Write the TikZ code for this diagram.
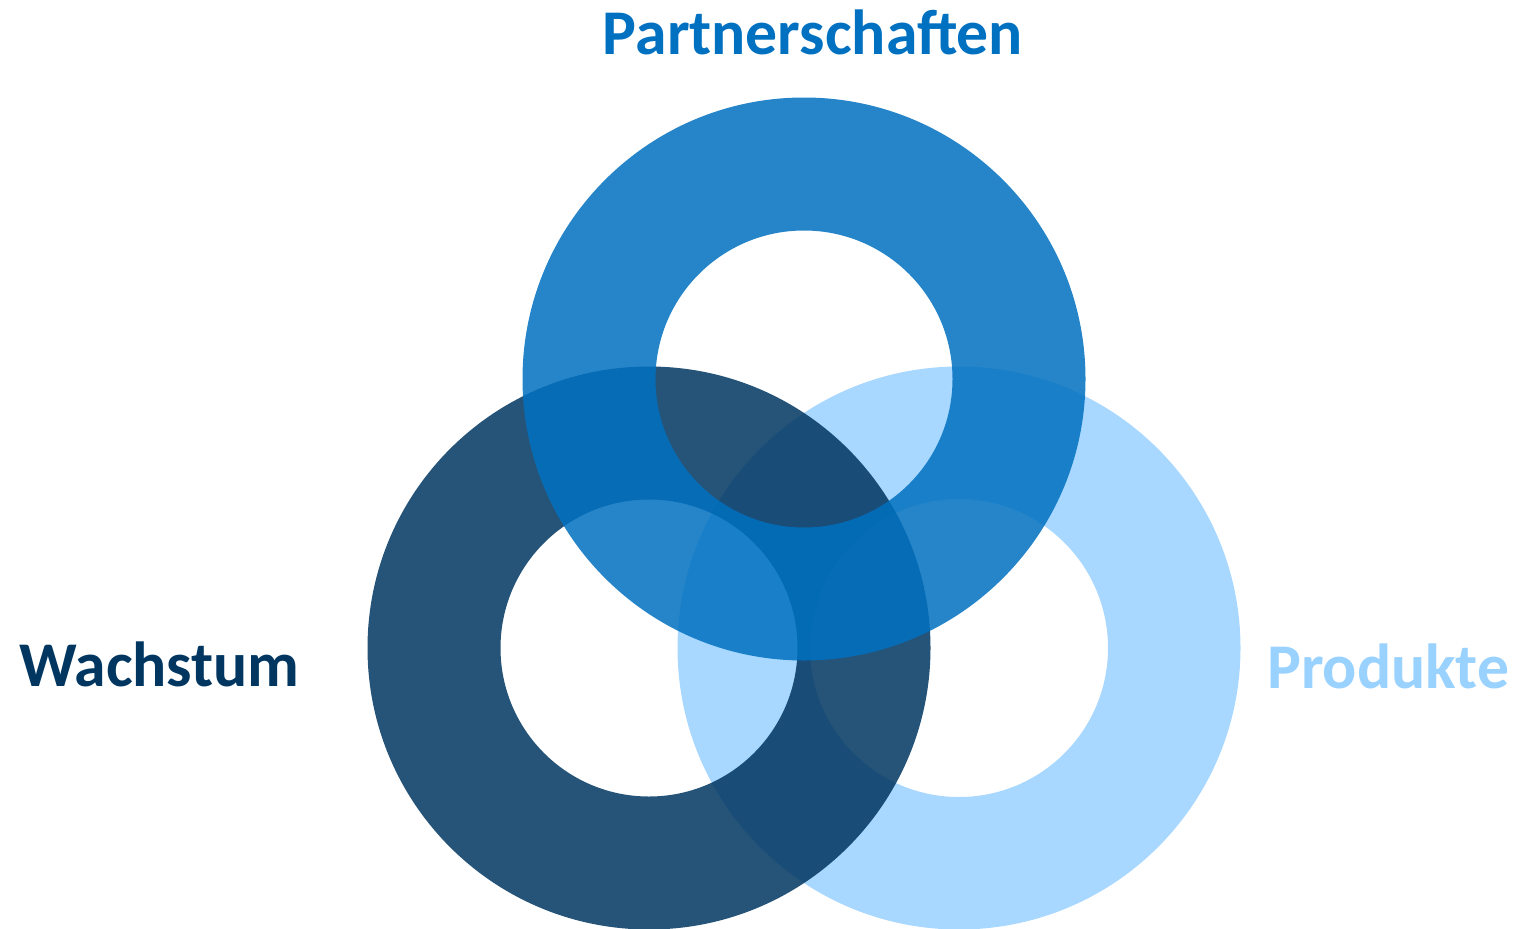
\documentclass[tikz,border=0pt]{standalone}
\usepackage{fontspec}
\setmainfont{Carlito}
\definecolor{cTop}{HTML}{0070C0}
\definecolor{cLeft}{HTML}{003660}
\definecolor{cRight}{HTML}{99D1FF}
\tikzset{
  ring/.style={fill=#1, fill opacity=0.85, even odd rule, draw=none},
  lbl/.style={inner sep=0pt, font=\bfseries\fontsize{63.7}{64}\selectfont, text=#1}
}
\begin{document}
\begin{tikzpicture}[x=1pt,y=-1pt]
\useasboundingbox (0,0) rectangle (1518,929);
\coordinate (ct) at (804,379);
\coordinate (cl) at (649,648);
\coordinate (cr) at (959,648);
\fill[ring=cRight] (cr) circle[radius=281.5pt] (cr) circle[radius=149pt];
\fill[ring=cLeft] (cl) circle[radius=281.5pt] (cl) circle[radius=148.5pt];
\fill[ring=cTop] (ct) circle[radius=281.5pt] (ct) circle[radius=148.5pt];
\node[lbl=cTop, anchor=base] (tp) at (813,54) {Partnerschaften};
\node[lbl=cLeft, anchor=base west] (tw) at (19,686) {Wachstum};
\node[lbl=cRight, anchor=base west] (tpr) at (1267,688) {Produkte};
\end{tikzpicture}
\end{document}
